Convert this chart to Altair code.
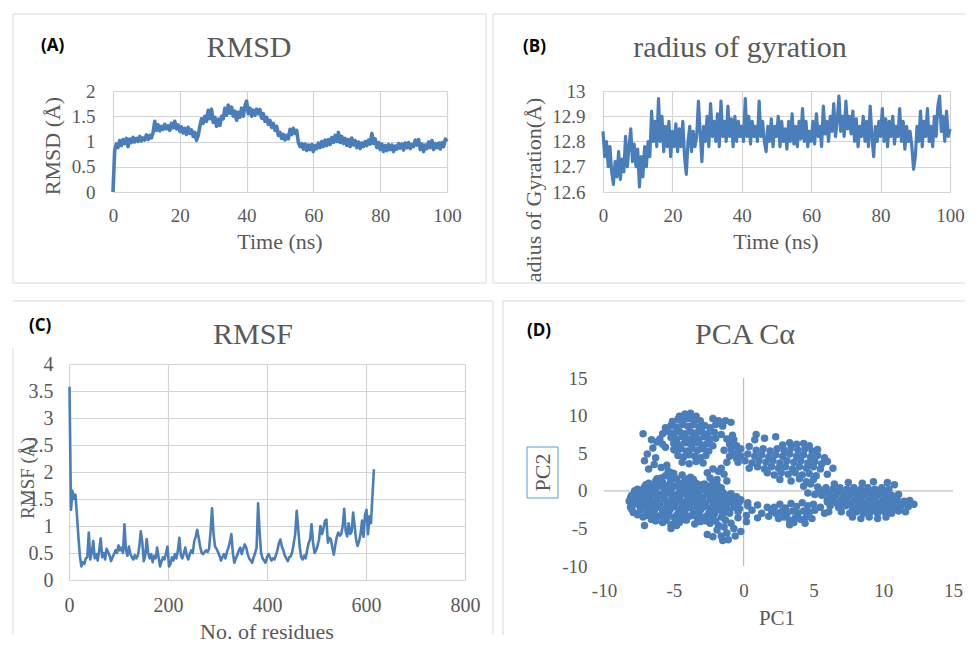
import altair as alt
import pandas as pd
import numpy as np

# ---------------- data ----------------
rmsd_time = np.arange(0, 100.5, 0.5)          # ns
rmsd_values = [
    0.00, 0.82, 0.95, 0.88, 1.02, 0.92, 1.04, 0.96, 1.06, 0.90,
    1.05, 0.98, 1.08, 0.99, 1.06, 1.00, 1.10, 1.01, 1.07, 1.03,
    1.13, 1.04, 1.12, 1.07, 1.18, 1.40, 1.22, 1.33, 1.21, 1.30,
    1.24, 1.34, 1.25, 1.31, 1.22, 1.36, 1.27, 1.40, 1.25, 1.33,
    1.20, 1.29, 1.17, 1.26, 1.14, 1.28, 1.16, 1.23, 1.10, 1.18,
    1.02, 1.12, 1.30, 1.45, 1.36, 1.50, 1.40, 1.62, 1.45, 1.64,
    1.38, 1.48, 1.30, 1.44, 1.32, 1.50, 1.45, 1.66, 1.52, 1.72,
    1.56, 1.68, 1.50, 1.60, 1.42, 1.58, 1.48, 1.66, 1.50, 1.70,
    1.80, 1.55, 1.66, 1.50, 1.62, 1.52, 1.64, 1.55, 1.63, 1.46,
    1.55, 1.40, 1.48, 1.34, 1.42, 1.28, 1.36, 1.22, 1.30, 1.12,
    1.18, 1.06, 1.14, 1.03, 1.12, 1.05, 1.24, 1.14, 1.26, 1.16,
    1.22, 0.98, 0.90, 0.96, 0.85, 0.95, 0.82, 0.93, 0.84, 0.94,
    0.80, 0.92, 0.86, 0.97, 0.88, 1.00, 0.90, 1.03, 0.92, 1.04,
    0.94, 1.08, 0.98, 1.12, 1.00, 1.18, 0.98, 1.10, 0.96, 1.06,
    0.92, 1.04, 0.90, 1.07, 0.93, 1.02, 0.88, 0.99, 0.86, 0.97,
    0.90, 1.00, 0.92, 1.03, 0.95, 1.16, 0.96, 1.05, 0.88, 0.98,
    0.84, 0.95, 0.80, 0.92, 0.82, 0.94, 0.84, 0.93, 0.80, 0.91,
    0.85, 0.96, 0.87, 0.95, 0.83, 0.97, 0.88, 0.98, 0.86, 0.94,
    0.90, 1.03, 0.93, 1.04, 0.84, 0.95, 0.80, 0.93, 0.86, 0.99,
    0.88, 1.02, 0.84, 0.96, 0.88, 0.97, 0.85, 0.98, 0.90, 1.05,
    1.00,
]

rg_time = np.arange(0, 100.5, 0.5)            # ns
rg_values = [
    12.84, 12.74, 12.80, 12.70, 12.78, 12.68, 12.63, 12.72, 12.66, 12.76,
    12.65, 12.73, 12.68, 12.82, 12.70, 12.78, 12.85, 12.72, 12.79, 12.70,
    12.77, 12.62, 12.74, 12.66, 12.78, 12.70, 12.80, 12.74, 12.92, 12.80,
    12.88, 12.78, 12.97, 12.80, 12.90, 12.76, 12.86, 12.78, 12.88, 12.74,
    12.84, 12.78, 12.87, 12.76, 12.85, 12.78, 12.88, 12.74, 12.67, 12.80,
    12.86, 12.76, 12.84, 12.78, 12.82, 12.96, 12.84, 12.72, 12.86, 12.80,
    12.90, 12.78, 12.95, 12.82, 12.88, 12.80, 12.91, 12.78, 12.96, 12.82,
    12.88, 12.80, 12.94, 12.82, 12.89, 12.78, 12.90, 12.80, 12.88, 12.82,
    12.86, 12.80, 12.97, 12.82, 12.90, 12.79, 12.88, 12.82, 12.86, 12.80,
    12.96, 12.82, 12.88, 12.80, 12.76, 12.86, 12.80, 12.89, 12.78, 12.86,
    12.82, 12.90, 12.78, 12.88, 12.80, 12.85, 12.77, 12.88, 12.80, 12.91,
    12.79, 12.86, 12.78, 12.88, 12.81, 12.93, 12.80, 12.88, 12.78, 12.84,
    12.80, 12.88, 12.79, 12.91, 12.82, 12.86, 12.78, 12.94, 12.83, 12.88,
    12.80, 12.90, 12.84, 12.95, 12.82, 12.88, 12.98, 12.84, 12.90, 12.82,
    12.96, 12.85, 12.90, 12.83, 12.92, 12.80, 12.89, 12.78, 12.86, 12.82,
    12.90, 12.80, 12.88, 12.78, 12.94, 12.82, 12.74, 12.86, 12.80, 12.88,
    12.82, 12.93, 12.80, 12.89, 12.78, 12.88, 12.82, 12.90, 12.79, 12.86,
    12.82, 12.93, 12.80, 12.88, 12.77, 12.86, 12.80, 12.84, 12.78, 12.69,
    12.74, 12.86, 12.80, 12.92, 12.78, 12.88, 12.82, 12.93, 12.80, 12.86,
    12.78, 12.90, 12.82, 12.94, 12.98, 12.84, 12.90, 12.80, 12.92, 12.82,
    12.85,
]

rmsf_residue = np.arange(1, 617, 3)            # residue number
rmsf_values = [
    3.58, 1.30, 1.65, 1.50, 1.58, 1.20, 0.80, 0.45, 0.25, 0.33,
    0.30, 0.40, 0.42, 0.88, 0.38, 0.50, 0.72, 0.40, 0.48, 0.36,
    0.55, 0.77, 0.42, 0.50, 0.38, 0.58, 0.52, 0.45, 0.35, 0.42,
    0.48, 0.55, 0.50, 0.64, 0.55, 0.60, 0.50, 1.03, 0.55, 0.45,
    0.62, 0.48, 0.42, 0.38, 0.46, 0.40, 0.45, 0.62, 0.90, 0.70,
    0.35, 0.45, 0.76, 0.50, 0.40, 0.48, 0.33, 0.45, 0.40, 0.60,
    0.42, 0.25, 0.35, 0.42, 0.38, 0.50, 0.62, 0.25, 0.30, 0.42,
    0.36, 0.48, 0.40, 0.55, 0.78, 0.45, 0.40, 0.50, 0.60, 0.45,
    0.38, 0.48, 0.55, 0.50, 0.72, 0.80, 0.93, 0.78, 0.62, 0.50,
    0.48, 0.52, 0.55, 0.52, 0.58, 0.90, 1.33, 0.85, 0.62, 0.58,
    0.52, 0.45, 0.36, 0.42, 0.48, 0.40, 0.52, 0.60, 0.70, 0.85,
    0.50, 0.32, 0.40, 0.46, 0.55, 0.60, 0.48, 0.58, 0.66, 0.60,
    0.48, 0.40, 0.36, 0.32, 0.42, 0.50, 0.60, 1.42, 0.90, 0.50,
    0.40, 0.36, 0.32, 0.42, 0.48, 0.42, 0.36, 0.40, 0.38, 0.46,
    0.55, 0.68, 0.75, 0.62, 0.55, 0.45, 0.40, 0.35, 0.42, 0.44,
    0.52, 0.68, 0.85, 1.28, 0.95, 0.62, 0.42, 0.38, 0.45, 0.40,
    0.55, 0.68, 0.75, 1.03, 0.70, 0.50, 0.55, 0.63, 0.75, 1.00,
    0.85, 0.95, 1.09, 1.12, 0.69, 0.78, 0.75, 0.60, 0.47, 0.65,
    0.80, 0.88, 0.82, 0.85, 1.00, 1.32, 0.90, 0.81, 1.05, 0.85,
    0.90, 1.25, 1.00, 0.75, 0.63, 0.72, 0.85, 1.10, 0.80, 1.20,
    1.30, 0.85, 1.18, 1.05, 1.56, 2.05,
]

# PCA (PC1, PC2) points, grouped by cluster
pca_lower_left = [
    (-5.6, 2.0), (-5.0, 2.3), (-4.4, 2.1), (-3.8, 1.8), (-6.2, 1.6), (-4.8, 1.6),
    (-6.8, 1.0), (-6.3, 1.3), (-5.8, 1.1), (-5.2, 1.4), (-4.6, 1.0), (-4.0, 1.2), (-3.4, 1.0), (-2.8, 0.9), (-2.2, 1.1),
    (-7.6, 0.2), (-7.1, 0.5), (-6.6, 0.3), (-6.1, 0.6), (-5.5, 0.4), (-5.0, 0.6), (-4.4, 0.3), (-3.9, 0.5), (-3.3, 0.3), (-2.7, 0.5), (-2.1, 0.2), (-1.6, 0.4),
    (-8.0, -0.6), (-7.5, -0.3), (-7.0, -0.5), (-6.5, -0.2), (-6.0, -0.5), (-5.4, -0.3), (-4.9, -0.6), (-4.3, -0.4), (-3.8, -0.2), (-3.2, -0.5), (-2.6, -0.3), (-2.0, -0.6), (-1.5, -0.2),
    (-8.2, -1.4), (-7.8, -1.0), (-7.3, -1.3), (-6.8, -1.1), (-6.3, -1.4), (-5.7, -1.0), (-5.2, -1.3), (-4.6, -1.1), (-4.1, -1.4), (-3.5, -1.0), (-3.0, -1.3), (-2.4, -1.1), (-1.9, -1.4), (-1.4, -1.0),
    (-8.1, -2.2), (-7.6, -1.8), (-7.1, -2.1), (-6.6, -1.9), (-6.1, -2.2), (-5.5, -1.8), (-5.0, -2.1), (-4.4, -1.9), (-3.9, -2.2), (-3.3, -1.8), (-2.8, -2.1), (-2.2, -1.9), (-1.7, -2.2), (-1.2, -1.8),
    (-7.9, -2.9), (-7.4, -2.6), (-6.9, -3.0), (-6.4, -2.7), (-5.8, -2.9), (-5.3, -2.6), (-4.7, -3.0), (-4.2, -2.7), (-3.6, -2.9), (-3.1, -2.6), (-2.5, -3.0), (-2.0, -2.7), (-1.5, -2.9),
    (-7.2, -3.5), (-6.6, -3.8), (-6.1, -3.4), (-5.5, -3.7), (-5.0, -3.5), (-4.4, -3.8), (-3.9, -3.4), (-3.3, -3.7), (-2.8, -3.5), (-2.2, -3.8), (-1.6, -3.5),
    (-5.8, -4.2), (-5.2, -4.5), (-4.6, -4.2), (-3.5, -4.4), (-2.4, -4.3), (-1.8, -4.6),
    (-5.9, 1.7), (-5.3, 1.9), (-4.2, 1.6), (-3.6, 1.5),
    (-7.0, 0.8), (-6.4, 0.9), (-5.9, 0.7), (-5.3, 0.9), (-4.7, 0.7), (-4.2, 0.8), (-3.6, 0.7), (-3.0, 0.8), (-2.5, 0.6), (-1.9, 0.8),
    (-7.8, 0.0), (-7.3, 0.1), (-6.8, -0.1), (-6.3, 0.1), (-5.7, -0.1), (-5.2, 0.1), (-4.6, -0.1), (-4.1, 0.1), (-3.5, -0.1), (-3.0, 0.1), (-2.4, -0.1), (-1.8, 0.0),
    (-8.1, -0.9), (-7.7, -0.7), (-7.2, -0.9), (-6.7, -0.7), (-6.2, -0.9), (-5.7, -0.7), (-5.1, -0.9), (-4.6, -0.7), (-4.0, -0.9), (-3.5, -0.7), (-2.9, -0.9), (-2.3, -0.7), (-1.7, -0.9), (-1.2, -0.6),
    (-8.0, -1.7), (-7.5, -1.5), (-7.0, -1.7), (-6.5, -1.5), (-6.0, -1.7), (-5.4, -1.5), (-4.9, -1.7), (-4.3, -1.5), (-3.8, -1.7), (-3.2, -1.5), (-2.7, -1.7), (-2.1, -1.5), (-1.6, -1.7), (-1.0, -1.5),
    (-8.0, -2.5), (-7.3, -2.3), (-6.8, -2.5), (-6.3, -2.3), (-5.7, -2.5), (-5.2, -2.3), (-4.6, -2.5), (-4.1, -2.3), (-3.5, -2.5), (-3.0, -2.3), (-2.4, -2.5), (-1.9, -2.3), (-1.3, -2.5),
    (-7.6, -3.2), (-7.0, -3.3), (-6.5, -3.1), (-5.9, -3.3), (-5.4, -3.1), (-4.8, -3.3), (-4.3, -3.1), (-3.7, -3.3), (-3.2, -3.1), (-2.6, -3.3), (-2.1, -3.1), (-1.5, -3.3),
    (-6.3, -4.0), (-5.6, -3.9), (-4.9, -4.0), (-4.1, -3.9), (-3.1, -4.1), (-2.7, -4.0), (-2.0, -4.0), (-1.3, -3.9),
    (-7.1, -4.6), (-5.2, -5.0), (-4.8, -4.6), (-5.4, 2.6),
]
pca_upper_left = [
    (-4.2, 10.2), (-3.8, 10.3), (-4.6, 9.9), (-3.4, 9.9),
    (-5.1, 9.2), (-4.7, 9.5), (-4.3, 9.4), (-3.9, 9.6), (-3.5, 9.4), (-3.1, 9.3), (-2.2, 9.6), (-1.8, 9.3), (-1.3, 9.3), (-0.9, 9.1),
    (-5.6, 8.4), (-5.2, 8.7), (-4.8, 8.5), (-4.4, 8.8), (-4.0, 8.6), (-3.6, 8.8), (-3.2, 8.5), (-2.8, 8.7), (-2.4, 8.4), (-2.0, 8.8), (-1.5, 8.6),
    (-5.8, 7.6), (-5.4, 7.9), (-5.0, 7.7), (-4.6, 7.9), (-4.2, 7.6), (-3.8, 7.9), (-3.4, 7.7), (-3.0, 7.9), (-2.6, 7.6), (-2.1, 7.8), (-1.6, 7.5), (-0.8, 7.4),
    (-6.0, 6.9), (-5.2, 7.1), (-4.8, 6.9), (-4.4, 7.2), (-4.0, 6.9), (-3.6, 7.1), (-3.2, 6.9), (-2.8, 7.2), (-2.4, 6.9), (-2.0, 7.0), (-1.2, 6.9), (-0.7, 6.8),
    (-5.0, 6.3), (-4.6, 6.1), (-4.2, 6.4), (-3.8, 6.2), (-3.4, 6.4), (-3.0, 6.1), (-2.6, 6.3), (-2.2, 6.0), (-1.0, 6.2), (-0.5, 6.0),
    (-4.9, 5.4), (-4.5, 5.6), (-4.1, 5.3), (-3.7, 5.6), (-3.3, 5.4), (-2.9, 5.6), (-2.5, 5.3), (-1.4, 5.4), (-0.9, 5.5), (-0.4, 5.2),
    (-4.7, 4.7), (-4.3, 4.5), (-3.9, 4.8), (-3.5, 4.6), (-3.1, 4.4), (-2.7, 4.7), (-1.0, 4.6), (-0.5, 4.3),
    (-4.4, 3.8), (-3.9, 3.6), (-3.4, 3.9), (-2.9, 3.7), (-1.2, 3.8),
    (-7.2, 7.6), (-6.6, 6.8), (-6.5, 5.7), (-6.9, 4.9), (-7.1, 4.0), (-6.4, 3.5), (-6.8, 2.9),
    (-5.9, 3.1), (-5.2, 2.4), (-5.0, 5.5), (-5.8, 6.2), (-6.2, 6.5), (-5.5, 3.4), (-6.3, 4.4), (-5.6, 5.8),
]
pca_middle_left = [
    (-2.6, 2.4), (-2.2, 2.9), (-1.8, 2.6), (-1.4, 2.2), (-2.4, 1.7), (-1.9, 1.5), (-1.2, 1.3), (-1.6, 3.0),
]
pca_upper_right = [
    (2.8, 6.1), (3.3, 6.4), (3.8, 6.2), (4.3, 6.3), (4.7, 6.0),
    (0.9, 5.4), (1.4, 5.6), (1.9, 5.3), (2.4, 5.6), (2.9, 5.4), (3.4, 5.7), (3.9, 5.4), (4.4, 5.6), (4.9, 5.3), (5.3, 5.5),
    (-0.6, 4.8), (-0.2, 4.6), (0.3, 4.9), (0.8, 4.6), (1.3, 4.8), (1.8, 4.5), (2.3, 4.8), (2.8, 4.6), (3.3, 4.9), (3.8, 4.6), (4.3, 4.8), (4.8, 4.5), (5.3, 4.7), (5.8, 4.4),
    (-0.4, 3.8), (0.1, 4.0), (0.6, 3.7), (1.1, 4.0), (1.6, 3.8), (2.1, 4.0), (2.6, 3.7), (3.1, 4.0), (3.6, 3.8), (4.1, 4.0), (4.6, 3.7), (5.1, 3.9), (5.6, 3.6), (6.0, 3.9),
    (0.4, 3.0), (1.0, 3.2), (1.5, 2.9), (2.0, 3.2), (2.5, 3.0), (3.0, 3.2), (3.5, 2.9), (4.0, 3.2), (4.5, 3.0), (5.0, 3.2), (5.5, 2.9),
    (1.7, 2.4), (2.2, 2.1), (2.7, 2.4), (3.2, 2.2), (3.7, 2.4), (4.2, 2.1), (4.7, 2.3), (5.2, 2.0),
    (2.6, 1.5), (3.4, 1.3), (4.0, 1.6), (4.5, 1.2), (5.0, 1.5),
    (4.3, 0.6), (4.8, 0.9), (5.3, 0.5),
    (4.6, -0.3), (5.1, -0.5),
    (0.9, 7.5), (1.5, 7.0), (2.3, 7.2), (0.8, 6.8), (-0.2, 5.6), (0.4, 5.9), (6.4, 3.0), (6.0, 2.2),
]
pca_right = [
    (6.5, 0.9), (7.5, 1.1), (8.5, 1.0), (9.3, 1.2), (10.3, 1.1),
    (5.4, 0.2), (5.9, 0.4), (6.4, 0.2), (6.9, 0.4), (7.4, 0.2), (7.9, 0.4), (8.4, 0.2), (8.9, 0.4), (9.4, 0.2), (9.9, 0.4), (10.4, 0.2),
    (5.6, -0.6), (6.1, -0.4), (6.6, -0.6), (7.1, -0.4), (7.6, -0.6), (8.1, -0.4), (8.6, -0.6), (9.1, -0.4), (9.6, -0.6), (10.1, -0.4), (10.6, -0.6), (11.1, -0.5),
    (6.0, -1.2), (6.5, -1.4), (7.0, -1.2), (7.5, -1.4), (8.0, -1.2), (8.5, -1.4), (9.0, -1.2), (9.5, -1.4), (10.0, -1.2), (10.5, -1.4), (11.0, -1.2), (11.5, -1.4),
    (6.2, -2.0), (6.8, -2.2), (7.3, -2.0), (7.8, -2.2), (8.3, -2.0), (8.8, -2.2), (9.3, -2.0), (9.8, -2.2), (10.3, -2.0), (10.8, -2.2), (11.3, -2.0), (11.8, -2.1),
    (7.0, -2.8), (7.6, -3.0), (8.1, -2.8), (8.6, -3.0), (9.1, -2.8), (9.6, -3.0), (10.1, -2.8), (10.6, -3.0), (11.1, -2.7),
    (7.8, -3.5), (8.4, -3.7), (9.0, -3.5), (9.6, -3.7), (10.2, -3.5),
    (5.8, -0.1), (6.3, -0.9), (6.8, -0.1), (7.3, -0.9), (7.8, -0.1), (8.3, -0.9), (8.8, -0.1), (9.3, -0.9), (9.8, -0.1), (10.3, -0.9), (10.8, -0.9),
    (6.7, -1.7), (7.2, -1.8), (7.7, -1.7), (8.2, -1.8), (8.7, -1.7), (9.2, -1.8), (9.7, -1.7), (10.2, -1.8), (10.7, -1.7), (11.2, -1.7),
    (7.8, -2.5), (8.3, -2.6), (8.8, -2.5), (9.3, -2.6), (9.8, -2.5), (10.3, -2.6), (10.8, -2.5),
    (12.2, -1.8), (11.9, -1.3), (6.1, -2.8), (11.6, -2.8), (10.8, 0.8),
]
pca_lower_middle = [
    (0.3, -1.6), (0.6, -2.6), (1.0, -1.9), (1.3, -3.0), (1.7, -2.2), (0.2, -3.3), (1.0, -3.6), (1.8, -3.4),
    (2.2, -2.2), (2.6, -1.8), (3.0, -2.3), (3.4, -1.7), (3.8, -2.1), (4.2, -1.6), (4.6, -2.0), (5.0, -1.8),
    (2.3, -3.0), (2.7, -2.8), (3.1, -3.1), (3.5, -2.7), (3.9, -3.0), (4.3, -2.7), (4.7, -2.9), (5.1, -2.6),
    (2.5, -3.7), (2.9, -3.5), (3.3, -3.9), (3.7, -3.6), (4.1, -3.8), (4.5, -3.5), (4.9, -3.7), (3.3, -4.5),
    (5.5, -2.2), (5.8, -3.0), (6.0, -1.5), (2.0, -2.7), (3.6, -4.2), (4.4, -4.3),
]
pca_near_origin = [
    (-1.0, -3.0), (-0.6, -2.2), (-0.3, -1.5), (-0.8, -1.2), (-0.4, -3.6), (-0.9, -4.3), (-1.4, -4.8),
    (-1.9, -5.2), (-1.2, -5.6), (-0.7, -5.0), (-1.6, -6.0), (-1.1, -6.5), (-2.2, -6.1), (-0.2, -5.4),
    (-0.4, -2.8), (0.2, -4.1), (-2.6, -5.8), (0.3, -2.0), (-1.5, -6.6), (-0.6, -6.0),
    (-0.9, -0.4), (-0.5, -0.8), (-0.2, -1.2), (-0.7, -1.9), (-0.3, -2.4), (-1.0, -2.6),
]

# tick values
rmsd_x_ticks = [0, 20, 40, 60, 80, 100]
rmsd_y_ticks = [0, 0.5, 1, 1.5, 2]
rg_y_ticks = [12.6, 12.7, 12.8, 12.9, 13.0]
rmsf_x_ticks = [0, 200, 400, 600, 800]
rmsf_y_ticks = [0, 0.5, 1, 1.5, 2, 2.5, 3, 3.5, 4]
pca_ticks = [-10, -5, 0, 5, 10, 15]

assert len(rmsd_values) == len(rmsd_time)
assert len(rg_values) == len(rg_time)
assert len(rmsf_values) == len(rmsf_residue)

# ---------------- styling ----------------
BLUE = '#4A7EBB'
GRID = '#D4D4D4'
BORDER = '#D9D9D9'
TXT = '#595959'
SERIF = 'Liberation Serif'
TAGFONT = 'Open Sans'


def axis(values, pad, size=19, grid=True, fmt=None, expr=None):
    kw = dict(values=values, grid=grid, gridColor=GRID, gridWidth=1.2, domain=False,
              ticks=False, tickSize=0, labelFont=SERIF, labelFontSize=size,
              labelColor=TXT, labelPadding=pad, title=None, labelFlush=False,
              labelOverlap=False)
    if fmt:
        kw['format'] = fmt
    if expr:
        kw['labelExpr'] = expr
    return alt.Axis(**kw)


def label(s, x, y, size, angle=0, color=TXT, font=SERIF, weight='normal',
          align='center', baseline='alphabetic'):
    return alt.Chart(pd.DataFrame({'s': [s]})).mark_text(
        font=font, fontSize=size, fontWeight=weight, angle=angle,
        align=align, baseline=baseline, color=color
    ).encode(text='s:N', x=alt.value(x), y=alt.value(y))


def tag(s, x, y):
    return label(s, x, y, 17, color='black', font=TAGFONT, weight='bold', align='left')


def seg(x1, y1, x2, y2, color=BORDER, w=1):
    return alt.Chart(pd.DataFrame({'k': [0]})).mark_rule(color=color, strokeWidth=w).encode(
        x=alt.value(x1), y=alt.value(y1), x2=alt.value(x2), y2=alt.value(y2))


def spacer(h=1):
    return alt.Chart(pd.DataFrame({'k': [0]})).mark_point(opacity=0).encode(
        x=alt.value(0), y=alt.value(0)).properties(width=1, height=h)


# ---------------- panel A : RMSD ----------------
dfA = pd.DataFrame({'t': rmsd_time, 'v': rmsd_values})
lineA = alt.Chart(dfA).mark_line(color=BLUE, strokeWidth=3.6, strokeJoin='round').encode(
    x=alt.X('t:Q', scale=alt.Scale(domain=[0, 100], nice=False), axis=axis(rmsd_x_ticks, 14)),
    y=alt.Y('v:Q', scale=alt.Scale(domain=[0, 2], nice=False), axis=axis(rmsd_y_ticks, 18, fmt='~g')),
)
A = alt.layer(
    seg(-100, -77, 373, -77), seg(-100, 192, 373, 192), seg(-100, -77, -100, 192), seg(373, -77, 373, 192),
    lineA,
    tag('(A)', -72, -40),
    label('RMSD', 136, -34, 30),
    label('RMSD (Å)', -60, 55, 22, angle=270, baseline='middle'),
    label('Time (ns)', 167, 158, 22),
).properties(width=334, height=101)

# ---------------- panel B : radius of gyration ----------------
dfB = pd.DataFrame({'t': rg_time, 'v': rg_values})
lineB = alt.Chart(dfB).mark_line(color=BLUE, strokeWidth=3.2, strokeJoin='round').encode(
    x=alt.X('t:Q', scale=alt.Scale(domain=[0, 100], nice=False), axis=axis(rmsd_x_ticks, 14)),
    y=alt.Y('v:Q', scale=alt.Scale(domain=[12.6, 13.0], nice=False, zero=False),
            axis=axis(rg_y_ticks, 18, fmt='~g')),
)
B = alt.layer(
    seg(-110, -77, 362, -77), seg(-110, 192, 362, 192), seg(-110, -77, -110, 192),
    lineB,
    tag('(B)', -80, -39),
    label('radius of gyration', 137, -34, 30),
    label('adius of Gyration(Å)', -69, 99, 22, angle=270, baseline='middle'),
    label('Time (ns)', 173, 158, 22),
).properties(width=347, height=101)

# ---------------- panel C : RMSF ----------------
dfC = pd.DataFrame({'r': rmsf_residue, 'v': rmsf_values})
lineC = alt.Chart(dfC).mark_line(color=BLUE, strokeWidth=2.6, strokeJoin='round').encode(
    x=alt.X('r:Q', scale=alt.Scale(domain=[0, 800], nice=False), axis=axis(rmsf_x_ticks, 15, size=20)),
    y=alt.Y('v:Q', scale=alt.Scale(domain=[0, 4], nice=False), axis=axis(rmsf_y_ticks, 16, size=20, fmt='~g')),
)
C = alt.layer(
    seg(-56, -63, 424, -63), seg(-56, -16, -56, 271), seg(424, -63, 424, 271),
    lineC,
    tag('(C)', -40, -33),
    label('RMSF', 184, -20, 30),
    label('RMSF (Å)', -41, 114, 19, angle=270, baseline='middle'),
    label('No. of residues', 198, 275, 22),
).properties(width=396, height=216)

# ---------------- panel D : PCA ----------------
pts = (pca_lower_left + pca_upper_left + pca_middle_left + pca_upper_right
       + pca_right + pca_lower_middle + pca_near_origin)
dfD = pd.DataFrame(pts, columns=['pc1', 'pc2'])
sx = alt.Scale(domain=[-10, 15], nice=False, zero=False)
sy = alt.Scale(domain=[-10, 15], nice=False, zero=False)
ax_x = axis(pca_ticks, 15, grid=False, expr="'' + datum.value")
ax_y = axis(pca_ticks, 17, grid=False, expr="'' + datum.value")
dots = alt.Chart(dfD).mark_circle(color=BLUE, size=56, opacity=1).encode(
    x=alt.X('pc1:Q', scale=sx, axis=ax_x),
    y=alt.Y('pc2:Q', scale=sy, axis=ax_y),
)
h_axis = alt.Chart(pd.DataFrame({'pc1': [-10], 'pc1_end': [15], 'pc2': [0]})).mark_rule(
    color='#BFBFBF', strokeWidth=1.2).encode(
    x=alt.X('pc1:Q', scale=sx, axis=ax_x), x2='pc1_end:Q', y=alt.Y('pc2:Q', scale=sy, axis=ax_y))
v_axis = alt.Chart(pd.DataFrame({'pc1': [0], 'pc2': [-10], 'pc2_end': [15]})).mark_rule(
    color='#BFBFBF', strokeWidth=1.2).encode(
    x=alt.X('pc1:Q', scale=sx, axis=ax_x), y=alt.Y('pc2:Q', scale=sy, axis=ax_y), y2='pc2_end:Q')
D = alt.layer(
    seg(-101, -77, 361, -77), seg(-101, -77, -101, 257),
    h_axis, v_axis, dots,
    tag('(D)', -77, -42),
    label('PCA Cα', 141, -34, 30),
    seg(-77, 69, -46, 69, color='#5B9BD5'), seg(-77, 120, -46, 120, color='#5B9BD5'),
    seg(-77, 69, -77, 120, color='#5B9BD5'), seg(-46, 69, -46, 120, color='#5B9BD5'),
    label('PC2', -61.5, 94.5, 22, angle=270, baseline='middle'),
    label('PC1', 173, 247, 21),
).properties(width=349, height=188)

# ---------------- layout ----------------
# (a nested concat counts as zero height in a flush outer concat,
#  so the row gap below is measured from the top of row 1)
row1 = alt.hconcat(spacer(), alt.hconcat(A, B, spacing=156, bounds='flush'),
                   spacing=43, bounds='flush')
colD = alt.vconcat(spacer(), D, spacing=13, bounds='flush')
row2 = alt.hconcat(C, colD, spacing=139, bounds='flush')
chart = alt.vconcat(row1, row2, spacing=273, bounds='flush').properties(
    padding={'left': 4, 'top': 5, 'right': 0, 'bottom': 0},
    background='white',
).configure_view(stroke=None)

chart.save("out.html", embed_options={"renderer": "svg", "actions": False})
